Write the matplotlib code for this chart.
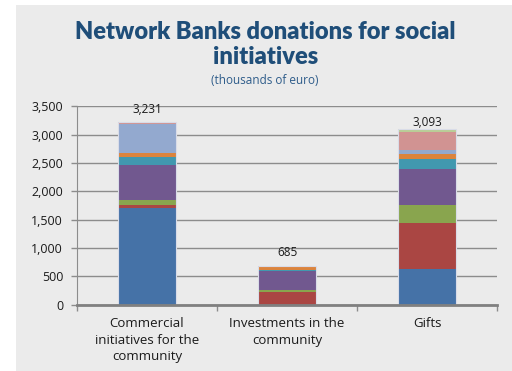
import matplotlib.pyplot as plt
import matplotlib.patches as mpatches
import numpy as np

categories = ['Commercial\ninitiatives for the\ncommunity', 'Investments in the\ncommunity', 'Gifts']

# stacked components, bottom to top (thousands of euro)
series = [
    [1700, 0, 635],
    [65, 230, 815],
    [80, 30, 305],
    [625, 330, 645],
    [145, 30, 165],
    [60, 50, 100],
    [521, 0, 60],
    [35, 15, 315],
    [0, 0, 53],
]
totals = [3231, 685, 3093]

colors = ['#4572A7', '#AA4643', '#89A54E', '#71588F', '#4198AF',
          '#DB843D', '#93A9CF', '#D19392', '#B9CD96']

fig = plt.figure(figsize=(5.12, 3.71), dpi=100)
fig.patch.set_facecolor('white')
# grey chart area
fig.patches.append(mpatches.Rectangle((16 / 512, 0), 1, 1 - 5 / 371, transform=fig.transFigure,
                                      facecolor='#EBEBEB', edgecolor='none', zorder=-10))

ax = fig.add_axes([77 / 512, 66.3 / 371, 420 / 512, 198.3 / 371])
ax.set_facecolor('none')

x = np.arange(len(categories))
bottom = np.zeros(len(categories))
for vals, c in zip(series, colors):
    vals = np.array(vals, dtype=float)
    ax.bar(x, vals, 0.41, bottom=bottom, color=c, edgecolor='none', zorder=3)
    bottom += vals
# thin light outline round each bar
ax.bar(x, bottom, 0.41, color='none', edgecolor='#D9DCE8', linewidth=0.8, zorder=4)

label_off = [8.6, 9.8, 4.8]
for i, t in enumerate(totals):
    ax.annotate(f'{t:,}', (x[i], t), xytext=(0, label_off[i]), textcoords='offset points',
                ha='center', va='center', fontsize=8.5, color='#1A1A1A', family='Open Sans')

ax.set_xlim(-0.5, 2.5)
ax.set_ylim(0, 3500)
ax.set_yticks(np.arange(0, 3501, 500))
ax.set_yticklabels([f'{v:,}' for v in range(0, 3501, 500)], fontsize=9, color='#1A1A1A',
                   family='Open Sans')
ax.yaxis.grid(True, color='#8C8C8C', linewidth=1.0, zorder=1)
ax.set_axisbelow(True)

# category labels between separator ticks
ax.set_xticks([-0.5, 0.5, 1.5, 2.5])
ax.set_xticklabels([])
ax.set_xticks(x, minor=True)
ax.set_xticklabels(categories, minor=True, fontsize=9.5, color='#1A1A1A', family='Open Sans',
                   linespacing=1.35)
ax.tick_params(axis='x', which='minor', length=0, pad=9)
ax.tick_params(axis='x', which='major', length=4, color='#8C8C8C', width=1)
ax.tick_params(axis='y', length=4, color='#8C8C8C', width=1, pad=6)

for s in ['top', 'right']:
    ax.spines[s].set_visible(False)
ax.spines['left'].set_color('#8C8C8C')
ax.spines['bottom'].set_color('#808080')
ax.spines['bottom'].set_linewidth(2)
ax.spines['bottom'].set_zorder(5)

fig.text(0.518, 1 - 32 / 371, 'Network Banks donations for social', ha='center', va='center',
         fontsize=17, fontweight='heavy', color='#1F4E79', family='Lato')
fig.text(0.518, 1 - 57 / 371, 'initiatives', ha='center', va='center',
         fontsize=17, fontweight='heavy', color='#1F4E79', family='Lato')
fig.text(0.518, 1 - 80 / 371, '(thousands of euro)', ha='center', va='center',
         fontsize=8.5, color='#2E5C8A', family='Open Sans')

fig.savefig('out.png', dpi=100)
